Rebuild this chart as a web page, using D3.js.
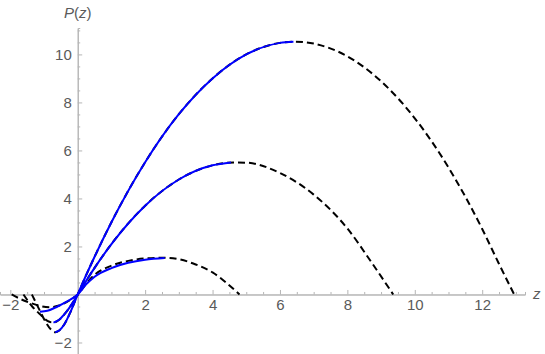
<!DOCTYPE html>
<html>
<head>
<meta charset="utf-8">
<script src="https://cdn.jsdelivr.net/npm/d3@7"></script>
<style>
  body { margin: 0; background: #fff; }
  .tick text { font-family: "Liberation Sans", Arial, sans-serif; font-size: 15px; fill: #5a5a5a; }
</style>
</head>
<body>
<div id="chart"></div>
<script>
// Define SVG area dimensions
var svgWidth = 545;
var svgHeight = 354;

// tick labels
var xTickValues = [-2, 2, 4, 6, 8, 10, 12];
var yTickValues = [-2, 2, 4, 6, 8, 10];

// curve points, [z, P(z)]
var largeSolid = [[-0.67, -1.57], [-0.55, -1.5], [-0.4, -1.25], [-0.2, -0.68], [0, 0],
  [0.5, 1.57], [1, 3.01], [2, 5.51], [3, 7.51], [4, 9.0], [5, 10.0], [6, 10.48], [6.4, 10.53]];
var largeDashed = [[-1.36, 0], [-1.15, -0.6], [-0.95, -1.15], [-0.8, -1.45], [-0.67, -1.57],
  [-0.55, -1.5], [-0.4, -1.25], [-0.2, -0.68], [0, 0], [0.5, 1.57], [1, 3.01], [2, 5.51],
  [3, 7.51], [4, 9.0], [5, 10.0], [6, 10.48], [6.45, 10.53], [7, 10.45], [8, 9.92], [9, 8.88],
  [10, 7.34], [11, 5.29], [12, 2.73], [12.5, 1.27], [12.95, 0]];

var middleSolid = [[-0.72, -1.17], [-0.55, -1.05], [-0.35, -0.75], [-0.15, -0.35], [0, 0],
  [0.5, 1.11], [1, 2.1], [2, 3.7], [3, 4.79], [4, 5.38], [4.55, 5.5]];
var middleDashed = [[-1.61, 0], [-1.35, -0.5], [-1.1, -0.85], [-0.9, -1.1], [-0.72, -1.17],
  [-0.55, -1.05], [-0.35, -0.75], [-0.15, -0.35], [0, 0], [0.5, 1.11], [1, 2.1], [2, 3.7],
  [3, 4.79], [4, 5.38], [4.65, 5.5], [5, 5.49], [6, 5.06], [7, 4.16], [8, 2.75], [8.7, 1.37],
  [9.36, 0]];

var smallSolid = [[-1.12, -0.72], [-0.9, -0.68], [-0.6, -0.5], [-0.3, -0.28], [0, 0],
  [0.25, 0.42], [0.5, 0.74], [1, 1.1], [1.5, 1.32], [2, 1.45], [2.58, 1.52]];
var smallDashed = [[-1.96, 0], [-1.6, -0.25], [-1.32, -0.39], [-1.05, -0.5], [-0.82, -0.53],
  [-0.55, -0.46], [-0.33, -0.32], [-0.15, -0.16], [0, 0], [0.25, 0.45], [0.5, 0.82], [1, 1.2],
  [1.5, 1.4], [2, 1.5], [2.6, 1.53], [3, 1.47], [3.5, 1.25], [4, 0.92], [4.4, 0.5], [4.8, 0]];

var svg = d3.select("#chart")
  .append("svg")
  .attr("width", svgWidth)
  .attr("height", svgHeight);

// scales put the origin where the axes cross
var xScale = d3.scaleLinear().domain([-2.306, 13.27]).range([0, 525]);
var yScale = d3.scaleLinear().domain([11.1, -2.5]).range([28, 354.5]);

var x0 = xScale(0);
var y0 = yScale(0);

// minor ticks every 0.5
var xMinor = d3.range(-2, 13.01, 0.5).filter(d => d !== 0 && xTickValues.indexOf(d) < 0);
var yMinor = d3.range(-2.5, 11.01, 0.5).filter(d => d !== 0 && yTickValues.indexOf(d) < 0);

var axisColor = "#b5b5b5";

function styleAxis(g) {
  g.select(".domain").attr("stroke", axisColor);
  g.selectAll(".tick line").attr("stroke", axisColor);
}

svg.append("g")
  .attr("transform", `translate(0, ${y0})`)
  .call(d3.axisBottom(xScale).tickValues(xMinor).tickSize(-2.5).tickFormat(""))
  .call(styleAxis);

svg.append("g")
  .attr("transform", `translate(0, ${y0})`)
  .call(d3.axisBottom(xScale).tickValues(xTickValues).tickSize(-4.5).tickSizeOuter(0).tickPadding(5))
  .call(styleAxis);

svg.append("g")
  .attr("transform", `translate(${x0}, 0)`)
  .call(d3.axisLeft(yScale).tickValues(yMinor).tickSize(-2.5).tickFormat(""))
  .call(styleAxis);

svg.append("g")
  .attr("transform", `translate(${x0}, 0)`)
  .call(d3.axisLeft(yScale).tickValues(yTickValues).tickSize(-4.5).tickSizeOuter(0).tickPadding(6))
  .call(styleAxis);

// axis labels
svg.append("text")
  .attr("x", x0)
  .attr("y", 18)
  .attr("text-anchor", "middle")
  .style("font-family", "Liberation Sans, Arial, sans-serif")
  .style("font-size", "15px")
  .style("fill", "#5a5a5a")
  .html('<tspan font-style="italic">P</tspan>(<tspan font-style="italic">z</tspan>)');

svg.append("text")
  .attr("x", 533)
  .attr("y", y0 + 5)
  .style("font-family", "Liberation Sans, Arial, sans-serif")
  .style("font-size", "15px")
  .style("font-style", "italic")
  .style("fill", "#5a5a5a")
  .text("z");

var line = d3.line()
  .x(d => xScale(d[0]))
  .y(d => yScale(d[1]))
  .curve(d3.curveMonotoneX);

[largeDashed, middleDashed, smallDashed].forEach(function(pts) {
  svg.append("path")
    .datum(pts)
    .attr("d", line)
    .attr("fill", "none")
    .attr("stroke", "#000")
    .attr("stroke-width", 2)
    .attr("stroke-dasharray", "7,4");
});

[largeSolid, middleSolid, smallSolid].forEach(function(pts) {
  svg.append("path")
    .datum(pts)
    .attr("d", line)
    .attr("fill", "none")
    .attr("stroke", "#0000ff")
    .attr("stroke-width", 2);
});
</script>
</body>
</html>
